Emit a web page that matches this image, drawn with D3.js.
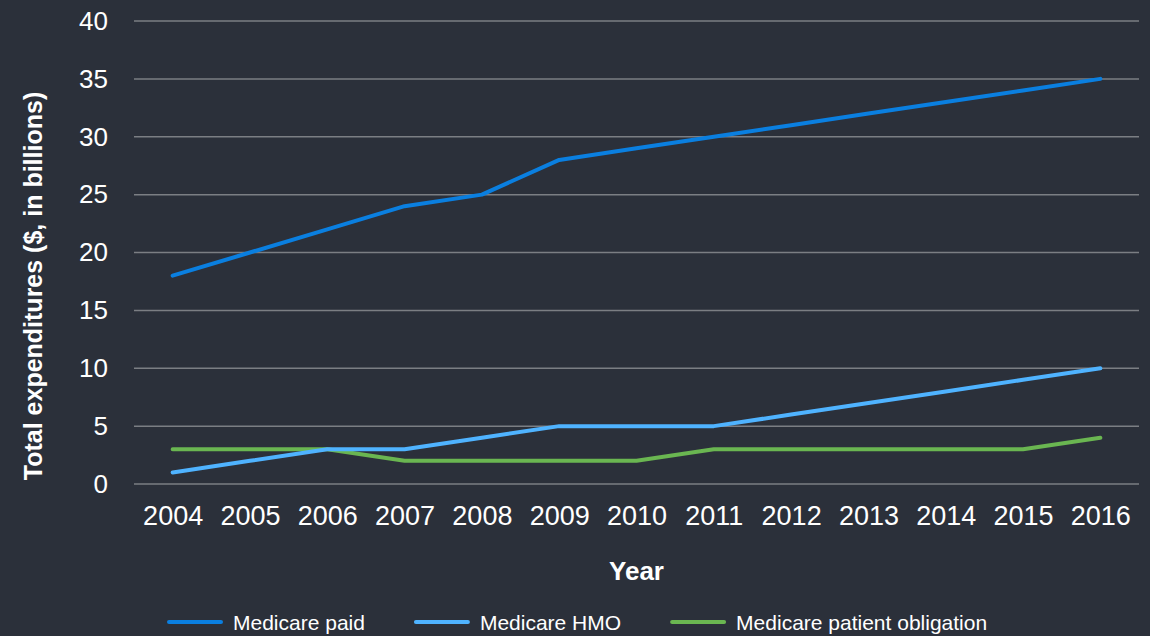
<!DOCTYPE html>
<html>
<head>
<meta charset="utf-8">
<script src="https://cdn.jsdelivr.net/npm/d3@7"></script>
<style>
  body { margin: 0; background: #2b303a; }
  svg { display: block; font-family: "Liberation Sans", Arial, sans-serif; }
</style>
</head>
<body>
<script>
const years = ["2004","2005","2006","2007","2008","2009","2010","2011","2012","2013","2014","2015","2016"];
const medicarePaid = [18, 20, 22, 24, 25, 28, 29, 30, 31, 32, 33, 34, 35];
const medicareHMO = [1, 2, 3, 3, 4, 5, 5, 5, 6, 7, 8, 9, 10];
const patientObligation = [3, 3, 3, 2, 2, 2, 2, 3, 3, 3, 3, 3, 4];
const yTicks = [0, 5, 10, 15, 20, 25, 30, 35, 40];

const seriesNames = ["Medicare paid", "Medicare HMO", "Medicare patient obligation"];
const seriesColors = ["#0a7fe0", "#4fb3ff", "#6ab651"];

function render() {
  const w = 1150, h = 636;
  const left = 134, right = 1139, top = 21, bottom = 484;

  const svg = d3.select("body")
    .append("svg")
    .attr("width", w)
    .attr("height", h);

  svg.append("rect")
    .attr("width", w).attr("height", h)
    .attr("fill", "#2b303a");

  const xScale = d3.scalePoint()
    .domain(years)
    .range([left, right])
    .padding(0.5);

  const yScale = d3.scaleLinear()
    .domain([0, 40])
    .range([bottom, top]);

  // gridlines
  svg.append("g")
    .selectAll("line")
    .data(yTicks)
    .enter()
    .append("line")
    .attr("x1", left)
    .attr("x2", right)
    .attr("y1", d => yScale(d))
    .attr("y2", d => yScale(d))
    .attr("stroke", "#7b7e83")
    .attr("stroke-width", 1.5);

  const yAxis = d3.axisLeft(yScale).tickValues(yTicks).tickSize(0).tickPadding(26);
  const gy = svg.append("g")
    .attr("id", "y-axis")
    .attr("transform", "translate(" + left + ",0)")
    .call(yAxis);
  gy.select(".domain").remove();
  gy.selectAll("text")
    .attr("fill", "#ffffff")
    .style("font-size", "26px")
    .style("font-family", "'Liberation Sans', Arial, sans-serif");

  const xAxis = d3.axisBottom(xScale).tickSize(0).tickPadding(22);
  const gx = svg.append("g")
    .attr("id", "x-axis")
    .attr("transform", "translate(0," + bottom + ")")
    .call(xAxis);
  gx.select(".domain").remove();
  gx.selectAll("text")
    .attr("fill", "#ffffff")
    .style("font-size", "27px")
    .style("font-family", "'Liberation Sans', Arial, sans-serif");

  // lines
  const allSeries = [medicarePaid, medicareHMO, patientObligation];
  const line = d3.line()
    .x((d, i) => xScale(years[i]))
    .y(d => yScale(d));

  // draw green first so blues sit on top like the reference
  [2, 1, 0].forEach(k => {
    svg.append("path")
      .datum(allSeries[k])
      .attr("d", line)
      .attr("fill", "none")
      .attr("stroke", seriesColors[k])
      .attr("stroke-width", 4)
      .attr("stroke-linejoin", "round")
      .attr("stroke-linecap", "round");
  });

  // axis titles
  svg.append("text")
    .attr("x", (left + right) / 2)
    .attr("y", 580)
    .attr("text-anchor", "middle")
    .attr("fill", "#ffffff")
    .style("font-size", "26px")
    .style("font-weight", "bold")
    .text("Year");

  svg.append("text")
    .attr("transform", "translate(42," + 286 + ") rotate(-90)")
    .attr("text-anchor", "middle")
    .attr("fill", "#ffffff")
    .style("font-size", "25px")
    .style("font-weight", "bold")
    .text("Total expenditures ($, in billions)");

  // legend
  const legend = svg.append("g").attr("transform", "translate(169,622)");
  let cx = 0;
  seriesNames.forEach((name, k) => {
    const g = legend.append("g").attr("transform", "translate(" + cx + ",0)");
    g.append("line")
      .attr("x1", 0).attr("x2", 52)
      .attr("stroke", seriesColors[k])
      .attr("stroke-width", 4)
      .attr("stroke-linecap", "round");
    const t = g.append("text")
      .attr("x", 64)
      .attr("y", 8)
      .attr("fill", "#ffffff")
      .style("font-size", "21px")
      .text(name);
    cx += 64 + t.node().getComputedTextLength() + 51;
  });
}

render();
</script>
</body>
</html>
